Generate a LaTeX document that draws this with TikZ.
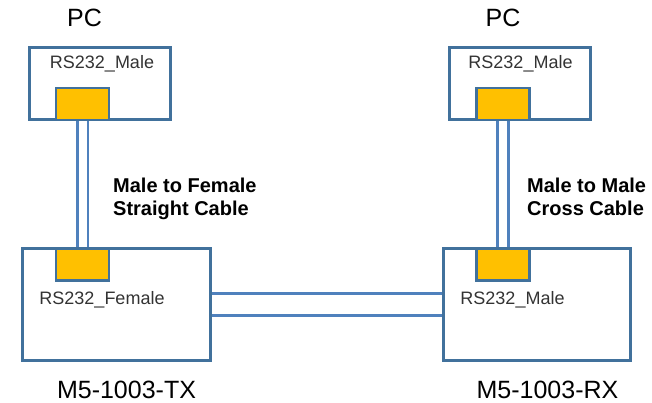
\documentclass[tikz,border=0pt]{standalone}
\usepackage{fontspec}
\setmainfont{Liberation Sans}
\usetikzlibrary{positioning}

\definecolor{boxblue}{RGB}{65,113,156}
\definecolor{cableblue}{RGB}{79,129,189}
\definecolor{portorange}{RGB}{255,192,0}

\tikzset{
  device/.style={draw=boxblue,line width=3pt,rectangle,inner sep=0pt},
  port/.style={draw=boxblue,line width=2.5pt,fill=portorange,rectangle,inner sep=0pt,minimum width=53pt,minimum height=32pt},
  cable/.style={draw=cableblue,line width=2.8pt,double=white},
  big/.style={inner sep=0pt,font=\fontsize{25}{30}\selectfont},
  small/.style={inner sep=0pt,font=\fontsize{18}{21}\selectfont,text=black!80},
  note/.style={inner sep=0pt,align=left,font=\fontsize{20}{23}\selectfont\bfseries}
}

\begin{document}
\begin{tikzpicture}[x=1pt,y=-1pt]
        \useasboundingbox (0,0) rectangle (652,403);
        % Define the nodes
        \node[device,minimum width=141pt,minimum height=72pt]  (pcA)   at (100,83.5) {};
        \node[device,minimum width=141pt,minimum height=72pt]  (pcB)   at (520,83.5) {};
        \node[device,minimum width=188pt,minimum height=112pt] (tx)    at (116.5,304.5) {};
        \node[device,minimum width=187pt,minimum height=112pt] (rx)    at (537,304.5) {};
        \node[port] (pcAport) at (82.5,104) {};
        \node[port] (pcBport) at (503,104) {};
        \node[port] (txport)  at (82.5,264.5) {};
        \node[port] (rxport)  at (503,264.5) {};
        % Labels
        \node[big,anchor=base]   (pcAname) at (84.5,27) {PC};
        \node[big,anchor=base]   (pcBname) at (503,27) {PC};
        \node[big,anchor=base]   (txname)  at (126.5,398) {M5-1003-TX};
        \node[big,anchor=base]   (rxname)  at (547.5,398) {M5-1003-RX};
        \node[small,anchor=base] (pcAtext) at (102,69) {RS232\_Male};
        \node[small,anchor=base] (pcBtext) at (520.5,69) {RS232\_Male};
        \node[small,anchor=base] (txtext)  at (102,304) {RS232\_Female};
        \node[small,anchor=base] (rxtext)  at (512.5,304) {RS232\_Male};
        \node[note,anchor=base west] (straight) at (113,215) {Male to Female\\Straight Cable};
        \node[note,anchor=base west] (cross)    at (527,215) {Male to Male\\Cross Cable};
        % Connect the nodes
        \draw[cable,double distance=8pt]    (pcAport) -- (txport);
        \draw[cable,double distance=8pt]    (pcBport) -- (rxport);
        \draw[cable,double distance=19.5pt] (tx) -- (rx);
    \end{tikzpicture}
\end{document}
